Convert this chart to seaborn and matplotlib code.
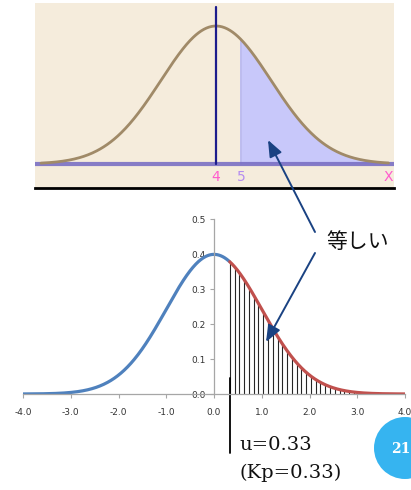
import numpy as np
import pandas as pd
import matplotlib
matplotlib.use('Agg')
import matplotlib.pyplot as plt
import seaborn as sns
from matplotlib.patches import Circle, FancyArrowPatch

# values
top_mean = 4
top_sd = 2.2
top_shade_from = 5
top_x_labels = ['4', '5', 'X']
top_x_label_pos = [4, 5, 10.9]
top_x_label_colors = ['#ff5ccd', '#b48cf0', '#ff5ccd']

u_value = 0.33
x_ticks = [-4.0, -3.0, -2.0, -1.0, 0.0, 1.0, 2.0, 3.0, 4.0]
y_ticks = [0.0, 0.1, 0.2, 0.3, 0.4, 0.5]
hatch_start = 0.33
hatch_end = 2.95
hatch_step = 0.1

label_equal = '等しい'
label_u = 'u=0.33'
label_kp = '(Kp=0.33)'
page_number = '21'

W, H = 411, 490


def npdf(x, m=0.0, s=1.0):
    return np.exp(-0.5 * ((x - m) / s) ** 2) / (s * np.sqrt(2 * np.pi))


def fx(x):
    return x / W


def fy(y):
    return 1 - y / H


sns.set_theme(style='white')
plt.rcParams['font.family'] = ['DejaVu Sans', 'Noto Sans CJK JP']

fig = plt.figure(figsize=(W / 100, H / 100), dpi=100)

# ---- top panel (beige) ----
ax_top = fig.add_axes([fx(35), fy(188), (394 - 35) / W, (188 - 3) / H])
ax_top.set_facecolor('#f5ecdc')
px_unit = 25.0
x_left = top_mean + (35 - 216) / px_unit
x_right = top_mean + (394 - 216) / px_unit
peak = npdf(top_mean, top_mean, top_sd)
scale = peak / 138.0
ax_top.set_xlim(x_left, x_right)
ax_top.set_ylim(-24 * scale, 161 * scale)

tx = np.linspace(top_mean - 7, top_mean + 6.9, 400)
top_df = pd.DataFrame({'x': tx, 'y': npdf(tx, top_mean, top_sd)})
shade = top_df[top_df['x'] >= top_shade_from]
ax_top.fill_between(shade['x'], 0, shade['y'], color='#c8c8fa', lw=0)
ax_top.plot([top_shade_from, top_shade_from], [0, npdf(top_shade_from, top_mean, top_sd)],
            color='#b4b4f2', lw=1.2)
ax_top.axhline(0, color='#7a70c4', lw=3, alpha=0.9)
sns.lineplot(data=top_df, x='x', y='y', ax=ax_top, color='#a08a68', lw=2, legend=False)
ax_top.plot([top_mean, top_mean], [0, 157 * scale], color='#1c1c8c', lw=1.6)
for lab, pos, col in zip(top_x_labels, top_x_label_pos, top_x_label_colors):
    ax_top.text(pos, -13 * scale, lab, color=col, fontsize=10, ha='center', va='center')
ax_top.set_xticks([])
ax_top.set_yticks([])
for s in ['top', 'left', 'right']:
    ax_top.spines[s].set_visible(False)
ax_top.spines['bottom'].set_color('black')
ax_top.spines['bottom'].set_linewidth(2)
ax_top.set_xlabel('')
ax_top.set_ylabel('')

# ---- bottom panel (standard normal) ----
ax = fig.add_axes([fx(23), fy(394), (405 - 23) / W, (394 - 219) / H])
ax.set_facecolor('none')
xs = np.linspace(-4, 4, 801)
df = pd.DataFrame({'x': xs, 'y': npdf(xs)})
left = df[df['x'] <= u_value]
right = df[df['x'] >= u_value]

hx = np.arange(hatch_start, hatch_end, hatch_step)
ax.vlines(hx, 0, npdf(hx), color='black', lw=0.8, alpha=0.85)

sns.lineplot(data=left, x='x', y='y', ax=ax, color='#4f81bd', lw=2.3, legend=False)
sns.lineplot(data=right, x='x', y='y', ax=ax, color='#c0504d', lw=2.3, legend=False)

ax.plot([u_value, u_value], [0.046, -0.169], color='black', lw=1.3, clip_on=False)

ax.set_xlim(-4, 4)
ax.set_ylim(0, 0.5)
ax.spines['left'].set_position(('data', 0))
ax.spines['top'].set_visible(False)
ax.spines['right'].set_visible(False)
for s in ['left', 'bottom']:
    ax.spines[s].set_color('#a6a6a6')
    ax.spines[s].set_linewidth(0.9)
ax.set_xticks(x_ticks)
ax.set_yticks(y_ticks)
ax.set_xticklabels(['%.1f' % v for v in x_ticks])
ax.set_yticklabels(['%.1f' % v for v in y_ticks])
ax.tick_params(axis='both', direction='out', length=3, width=0.8, color='#a6a6a6',
               labelsize=6.5, labelcolor='#333333', bottom=True, left=True)
ax.tick_params(axis='x', pad=7)
ax.tick_params(axis='y', pad=3)
ax.set_xlabel('')
ax.set_ylabel('')

# ---- annotations ----
arrow_col = '#1a4282'
for tail, head in [((315, 232), (268, 140)), ((315, 253), (266, 342))]:
    fig.add_artist(FancyArrowPatch(
        (tail[0], H - tail[1]), (head[0], H - head[1]), transform=None,
        arrowstyle='-|>,head_length=10,head_width=4', mutation_scale=1,
        color=arrow_col, lw=1.4, shrinkA=0, shrinkB=0))

fig.text(fx(326), fy(242), label_equal, fontsize=15, ha='left', va='center',
         family=['Noto Sans CJK JP', 'DejaVu Sans'], color='#111111')
fig.text(fx(239), fy(445), label_u, fontsize=14, ha='left', va='center', family='DejaVu Serif', color='#111111')
fig.text(fx(239), fy(473), label_kp, fontsize=14, ha='left', va='center', family='DejaVu Serif', color='#111111')

fig.add_artist(Circle((405, H - 448), 31, transform=None, color='#36b4f0', lw=0))
fig.text(fx(391), fy(449), page_number, fontsize=10, fontweight='bold', ha='left', va='center',
         family='DejaVu Serif', color='white')

fig.savefig('out.png', dpi=100)
